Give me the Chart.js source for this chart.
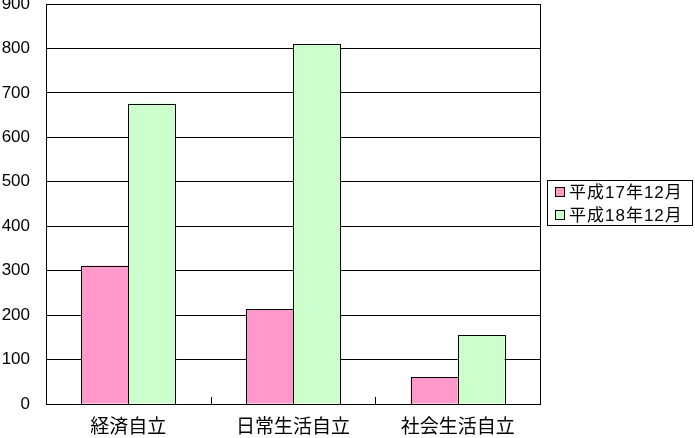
<!DOCTYPE html>
<html>
<head>
<meta charset="utf-8">
<script src="https://cdn.jsdelivr.net/npm/chart.js@4.4.1/dist/chart.umd.min.js"></script>
<style>
  html, body { margin: 0; padding: 0; background: #fff; }
  #wrap { width: 695px; height: 438px; position: relative; }
</style>
</head>
<body>
<div id="wrap"><canvas id="chart"></canvas></div>
<script>
var categories = ['経済自立', '日常生活自立', '社会生活自立'];
var seriesNames = ['平成17年12月', '平成18年12月'];
var values2005 = [311, 213, 60];
var values2006 = [676, 809, 155];
var yTicks = [0, 100, 200, 300, 400, 500, 600, 700, 800, 900];

var FONT = "'Liberation Sans', 'Noto Sans CJK JP', sans-serif";

// frame, crisp bar outlines, inner tick marks between categories, boxed legend
var excelFrame = {
  id: 'excelFrame',
  afterDraw: function (chart) {
    var ctx = chart.ctx;
    var a = chart.chartArea;
    ctx.save();
    ctx.strokeStyle = '#000';
    ctx.lineWidth = 1;

    chart.data.datasets.forEach(function (ds, k) {
      chart.getDatasetMeta(k).data.forEach(function (bar) {
        var l = Math.round(bar.x - bar.width / 2);
        var r = Math.round(bar.x + bar.width / 2);
        var t = Math.round(bar.y);
        var b = Math.round(bar.base);
        ctx.strokeRect(l + 0.5, t + 0.5, r - l, b - t);
      });
    });

    ctx.strokeRect(Math.round(a.left) + 0.5, Math.round(a.top) + 0.5,
      Math.round(a.right - a.left), Math.round(a.bottom - a.top));

    var step = (a.right - a.left) / categories.length;
    for (var i = 1; i < categories.length; i++) {
      var px = Math.round(a.left + step * i) + 0.5;
      ctx.beginPath();
      ctx.moveTo(px, a.bottom);
      ctx.lineTo(px, a.bottom - 7);
      ctx.stroke();
    }

    // legend
    var lx = 547, ly = 180, lw = 145, lh = 45;
    ctx.strokeRect(lx + 0.5, ly + 0.5, lw, lh);
    ctx.font = '17px ' + FONT;
    ctx.letterSpacing = '1px';
    ctx.textBaseline = 'middle';
    ctx.textAlign = 'left';
    chart.data.datasets.forEach(function (ds, k) {
      var cy = ly + 12 + k * 23;
      ctx.fillStyle = ds.backgroundColor;
      ctx.fillRect(555, cy - 4, 9, 9);
      ctx.strokeRect(555.5, cy - 4.5, 9, 9);
      ctx.fillStyle = '#000';
      ctx.fillText(ds.label, 569, cy + 1);
    });
    ctx.restore();
  }
};

new Chart('chart', {
  type: 'bar',
  data: {
    labels: categories,
    datasets: [
      {
        label: seriesNames[0],
        data: values2005,
        backgroundColor: '#FF99CC',
        borderWidth: 0
      },
      {
        label: seriesNames[1],
        data: values2006,
        backgroundColor: '#CCFFCC',
        borderWidth: 0
      }
    ]
  },
  options: {
    responsive: true,
    maintainAspectRatio: false,
    animation: false,
    layout: { padding: { top: 4, right: 155, left: 0, bottom: 0 } },
    datasets: {
      bar: { categoryPercentage: 0.57, barPercentage: 1 }
    },
    plugins: {
      legend: { display: false },
      tooltip: { enabled: false }
    },
    scales: {
      x: {
        grid: { display: false, drawTicks: false },
        border: { display: false },
        ticks: {
          color: '#000',
          font: { family: FONT, size: 19 },
          padding: 12,
          maxRotation: 0
        },
        afterFit: function (scale) {
          scale.height = 34;
          scale.paddingLeft = 0;
          scale.paddingRight = 0;
        }
      },
      y: {
        min: yTicks[0],
        max: yTicks[yTicks.length - 1],
        afterBuildTicks: function (scale) {
          scale.ticks = yTicks.map(function (v) { return { value: v }; });
        },
        grid: { color: '#000', lineWidth: 1, drawTicks: false },
        border: { display: false },
        ticks: {
          color: '#000',
          font: { family: FONT, size: 17 },
          padding: 16
        },
        afterFit: function (scale) {
          scale.width = 46;
          scale.paddingTop = 0;
          scale.paddingBottom = 0;
        }
      }
    }
  },
  plugins: [excelFrame]
});
</script>
</body>
</html>
